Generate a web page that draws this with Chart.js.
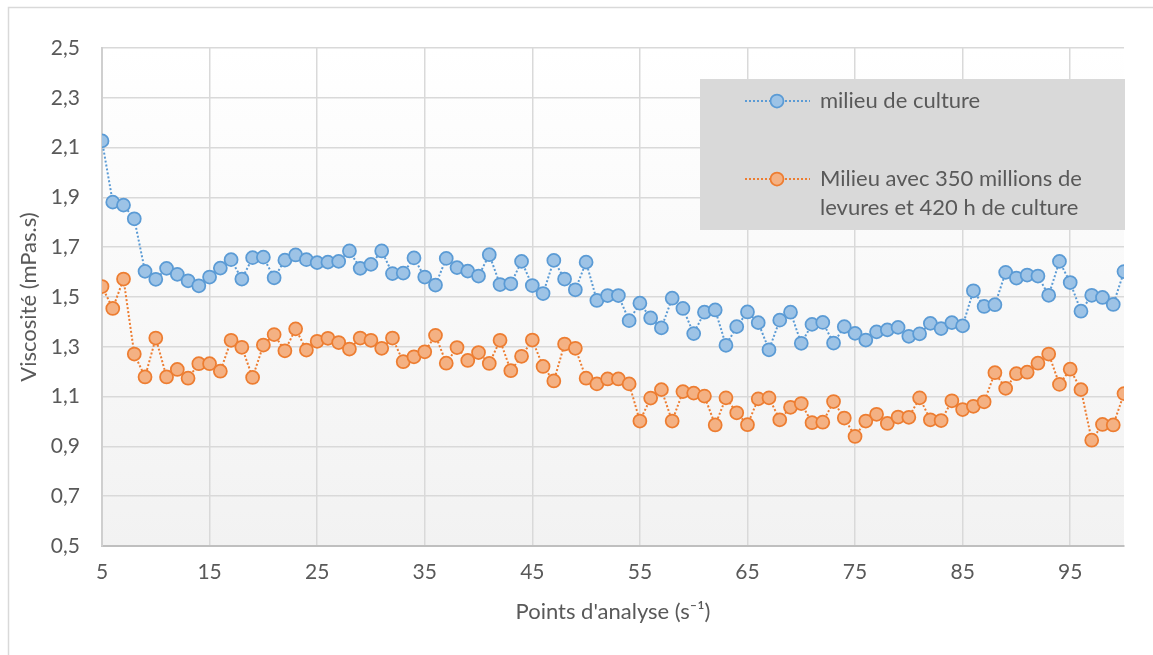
<!DOCTYPE html>
<html>
<head>
<meta charset="utf-8">
<script src="https://cdn.jsdelivr.net/npm/chart.js@4.4.1/dist/chart.umd.min.js"></script>
<style>
    html, body { margin: 0; padding: 0; background: #fff; }
    #wrap { width: 1153px; height: 655px; }
</style>
</head>
<body>
<div id="wrap"><canvas id="viscChart" width="1153" height="655"></canvas></div>
<script>
// points d'analyse (s-1)
const points = [
    5, 6, 7, 8, 9, 10, 11, 12, 13, 14, 15, 16, 17, 18, 19, 20, 21, 22, 23, 24,
    25, 26, 27, 28, 29, 30, 31, 32, 33, 34, 35, 36, 37, 38, 39, 40, 41, 42, 43, 44,
    45, 46, 47, 48, 49, 50, 51, 52, 53, 54, 55, 56, 57, 58, 59, 60, 61, 62, 63, 64,
    65, 66, 67, 68, 69, 70, 71, 72, 73, 74, 75, 76, 77, 78, 79, 80, 81, 82, 83, 84,
    85, 86, 87, 88, 89, 90, 91, 92, 93, 94, 95, 96, 97, 98, 99, 100
];

// milieu de culture
const milieu = [
    2.127, 1.881, 1.869, 1.814, 1.603, 1.571, 1.615, 1.591, 1.565, 1.545,
    1.580, 1.616, 1.650, 1.572, 1.658, 1.660, 1.577, 1.648, 1.669, 1.650,
    1.638, 1.640, 1.643, 1.685, 1.615, 1.631, 1.685, 1.594, 1.596, 1.657,
    1.580, 1.548, 1.655, 1.618, 1.604, 1.584, 1.670, 1.550, 1.553, 1.643,
    1.546, 1.514, 1.647, 1.572, 1.529, 1.640, 1.486, 1.506, 1.506, 1.405,
    1.475, 1.416, 1.376, 1.495, 1.454, 1.353, 1.439, 1.448, 1.306, 1.381,
    1.440, 1.397, 1.288, 1.407, 1.439, 1.314, 1.390, 1.398, 1.315, 1.381,
    1.354, 1.327, 1.360, 1.368, 1.378, 1.342, 1.352, 1.394, 1.373, 1.397,
    1.384, 1.525, 1.462, 1.469, 1.599, 1.576, 1.588, 1.584, 1.507, 1.643,
    1.558, 1.443, 1.507, 1.498, 1.470, 1.602
];

// milieu avec 350 millions de levures et 420 h de culture
const milieuLevures = [
    1.542, 1.454, 1.572, 1.271, 1.179, 1.335, 1.179, 1.209, 1.174, 1.232,
    1.232, 1.202, 1.326, 1.298, 1.177, 1.307, 1.349, 1.284, 1.372, 1.287,
    1.322, 1.334, 1.317, 1.291, 1.335, 1.326, 1.294, 1.335, 1.240, 1.260,
    1.280, 1.346, 1.234, 1.297, 1.245, 1.277, 1.233, 1.326, 1.204, 1.262,
    1.327, 1.221, 1.163, 1.311, 1.294, 1.174, 1.151, 1.171, 1.171, 1.151,
    1.002, 1.094, 1.128, 1.002, 1.120, 1.114, 1.102, 0.986, 1.095, 1.035,
    0.987, 1.091, 1.095, 1.007, 1.057, 1.072, 0.995, 0.997, 1.080, 1.014,
    0.940, 1.002, 1.029, 0.992, 1.018, 1.017, 1.095, 1.007, 1.004, 1.083,
    1.048, 1.061, 1.079, 1.196, 1.133, 1.192, 1.198, 1.234, 1.271, 1.149,
    1.210, 1.128, 0.925, 0.988, 0.986, 1.112
];

const xTicks = [5, 15, 25, 35, 45, 55, 65, 75, 85, 95];
const seriesNames = ["milieu de culture", "Milieu avec 350 millions de levures et 420 h de culture"];

const FONT = "Lato, 'Open Sans', sans-serif";
const TEXT = "#595959";
const GRID = "#d9d9d9";
const BLUE = { line: "#5b9bd5", fill: "#9dc3e6" };
const ORANGE = { line: "#ed7d31", fill: "#f4b183" };

// frame + plot area gradient
const backdrop = {
    id: "backdrop",
    beforeDraw(chart) {
        const { ctx, chartArea: a } = chart;
        ctx.save();
        ctx.fillStyle = "#fff";
        ctx.fillRect(0, 0, chart.width, chart.height);
        ctx.strokeStyle = GRID;
        ctx.lineWidth = 1.5;
        ctx.beginPath();
        ctx.moveTo(8.5, chart.height);
        ctx.lineTo(8.5, 7.5);
        ctx.lineTo(chart.width, 7.5);
        ctx.stroke();
        const g = ctx.createLinearGradient(0, a.top, 0, a.bottom);
        g.addColorStop(0, "#ffffff");
        g.addColorStop(1, "#f2f2f2");
        ctx.fillStyle = g;
        ctx.fillRect(a.left, a.top, a.right - a.left, a.bottom - a.top);
        ctx.restore();
    }
};

// legend box inside the plot, like the original
const boxLegend = {
    id: "boxLegend",
    afterDraw(chart) {
        const { ctx } = chart;
        ctx.save();
        ctx.fillStyle = "#d9d9d9";
        ctx.fillRect(700, 79, 425, 151);

        const items = [
            { c: BLUE, y: 101, lines: [seriesNames[0]] },
            { c: ORANGE, y: 179, lines: ["Milieu avec 350 millions de", "levures et 420 h de culture"] }
        ];
        items.forEach(it => {
            ctx.strokeStyle = it.c.line;
            ctx.lineWidth = 2;
            ctx.setLineDash([2, 2]);
            ctx.beginPath();
            ctx.moveTo(745, it.y);
            ctx.lineTo(810, it.y);
            ctx.stroke();
            ctx.setLineDash([]);
            ctx.fillStyle = it.c.fill;
            ctx.lineWidth = 1.75;
            ctx.beginPath();
            ctx.arc(777, it.y, 6.5, 0, Math.PI * 2);
            ctx.fill();
            ctx.stroke();

            ctx.fillStyle = TEXT;
            ctx.font = "22px " + FONT;
            ctx.textBaseline = "middle";
            ctx.textAlign = "left";
            it.lines.forEach((t, i) => ctx.fillText(t, 820, it.y + i * 29));
        });
        ctx.restore();
    }
};

const mkSeries = (label, vals, c) => ({
    label: label,
    data: points.map((p, i) => ({ x: p, y: vals[i] })),
    borderColor: c.line,
    backgroundColor: c.fill,
    borderWidth: 2,
    borderDash: [2, 2],
    pointRadius: 6.5,
    pointHoverRadius: 6.5,
    pointBorderWidth: 1.75,
    pointBorderColor: c.line,
    pointBackgroundColor: c.fill,
    tension: 0,
    fill: false
});

const ctx = document.getElementById("viscChart").getContext("2d");
new Chart(ctx, {
    type: "line",
    data: {
        datasets: [
            mkSeries(seriesNames[0], milieu, BLUE),
            mkSeries(seriesNames[1], milieuLevures, ORANGE)
        ]
    },
    options: {
        responsive: false,
        animation: false,
        events: [],
        layout: { padding: { left: 8, top: 48, right: 29, bottom: 30 } },
        plugins: {
            legend: { display: false },
            tooltip: { enabled: false }
        },
        scales: {
            x: {
                type: "linear",
                min: 5,
                max: 100,
                afterBuildTicks: axis => { axis.ticks = xTicks.map(v => ({ value: v })); },
                afterFit: axis => { axis.height = 79; },
                grid: { color: GRID, lineWidth: 1.5, drawTicks: false },
                border: { color: "#bfbfbf", width: 2 },
                ticks: {
                    color: TEXT,
                    font: { family: FONT, size: 21 },
                    padding: 14,
                    maxRotation: 0,
                    autoSkip: false
                },
                title: {
                    display: true,
                    text: "Points d'analyse (s\u207B\u00B9)",
                    color: TEXT,
                    font: { family: FONT, size: 22 },
                    padding: { top: 0, bottom: 0 }
                }
            },
            y: {
                min: 0.5,
                max: 2.5,
                afterFit: axis => { axis.width = 94; },
                grid: { color: GRID, lineWidth: 1.5, drawTicks: false },
                border: { color: "#cfcfcf", width: 2 },
                ticks: {
                    stepSize: 0.2,
                    color: TEXT,
                    font: { family: FONT, size: 21 },
                    padding: 22,
                    callback: v => v.toFixed(1).replace(".", ",")
                },
                title: {
                    display: true,
                    text: "Viscosité (mPas.s)",
                    color: TEXT,
                    font: { family: FONT, size: 22 },
                    padding: { top: 8, bottom: 0 }
                }
            }
        }
    },
    plugins: [backdrop, boxLegend]
});
</script>
</body>
</html>
